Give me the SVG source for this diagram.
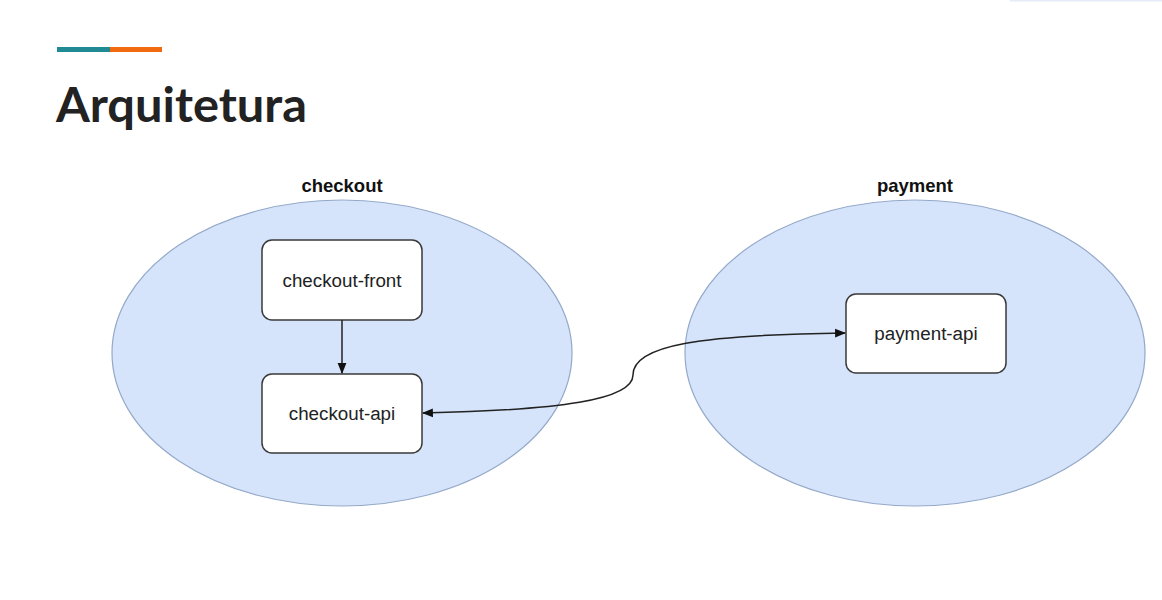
<svg xmlns="http://www.w3.org/2000/svg" width="1162" height="600" viewBox="0 0 1162 600">
<style>
.zone{fill:#d6e4fb;stroke:#94a9c9;stroke-width:1.2}
.box{fill:#ffffff;stroke:#3a3a3a;stroke-width:1.5}
.lbl{font-family:"Liberation Sans",Arial,sans-serif;font-size:18.8px;fill:#222;text-anchor:middle}
.zl{font-family:"Liberation Sans",Arial,sans-serif;font-size:18.5px;font-weight:bold;fill:#111;text-anchor:middle}
.edge{fill:none;stroke:#222;stroke-width:1.5}
</style>
<defs>
<marker id="ah" viewBox="0 0 10 10" refX="9" refY="5" markerWidth="11" markerHeight="11" markerUnits="userSpaceOnUse" orient="auto-start-reverse">
<path d="M0,1 L10,5 L0,9 z" fill="#111"/>
</marker>
</defs>
<rect width="1162" height="600" fill="#ffffff"/>
<line x1="1010" y1="0.5" x2="1162" y2="0.5" stroke="#e3ecf7" stroke-width="2"/>
<rect x="57" y="47" width="53" height="5" fill="#1f8a93"/>
<rect x="110" y="47" width="52" height="5" fill="#f26a10"/>
<text x="56" y="122" font-family="Lato,'Open Sans',sans-serif" font-weight="bold" font-size="47" fill="#222" textLength="251" lengthAdjust="spacingAndGlyphs">Arquitetura</text>
<g id="checkout">
<ellipse class="zone" cx="342" cy="353" rx="230" ry="153"/>
<text class="zl" x="342" y="192">checkout</text>
</g>
<g id="payment">
<ellipse class="zone" cx="915" cy="353" rx="230" ry="153"/>
<text class="zl" x="915" y="192">payment</text>
</g>
<g id="checkout-front">
<rect class="box" x="262" y="240" width="160" height="80" rx="10"/>
<text class="lbl" x="342" y="287">checkout-front</text>
</g>
<g id="checkout-api">
<rect class="box" x="262" y="374" width="160" height="79" rx="10"/>
<text class="lbl" x="342" y="420">checkout-api</text>
</g>
<g id="payment-api">
<rect class="box" x="846" y="294" width="160" height="79" rx="10"/>
<text class="lbl" x="926" y="340">payment-api</text>
</g>
<g id="connectors">
<line class="edge" x1="342" y1="320" x2="342" y2="373" marker-end="url(#ah)"/>
<path class="edge" d="M423,413 C560,410 633,400 633,375 C633,345 700,335 845,333" marker-start="url(#ah)" marker-end="url(#ah)"/>
</g>
</svg>
